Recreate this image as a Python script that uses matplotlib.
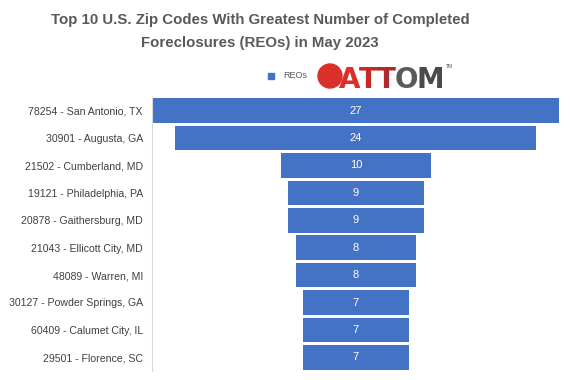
import matplotlib.pyplot as plt
import matplotlib.patches as mpatches
import numpy as np

# data
zips = ["78254 - San Antonio, TX", "30901 - Augusta, GA", "21502 - Cumberland, MD",
        "19121 - Philadelphia, PA", "20878 - Gaithersburg, MD", "21043 - Ellicott City, MD",
        "48089 - Warren, MI", "30127 - Powder Springs, GA", "60409 - Calumet City, IL",
        "29501 - Florence, SC"]
reos = [27, 24, 10, 9, 9, 8, 8, 7, 7, 7]

plt.rcParams['font.family'] = ['Liberation Sans', 'DejaVu Sans']

blue = "#4472c4"
fig = plt.figure(figsize=(5.7, 3.8), dpi=100)
ax = fig.add_axes([152/570, 1 - 371/380, 407/570, 274/380])

vals = np.array(reos)
ypos = np.arange(len(zips))
ax.barh(ypos, vals, left=-vals/2, height=0.9, color=blue)
for y, v in zip(ypos, vals):
    ax.text(0, y, str(v), ha="center", va="center", color="white", fontsize=8)

ax.set_xlim(-13.55, 13.5)
ax.set_ylim(len(zips) - 0.5, -0.5)
ax.set_yticks(ypos)
ax.set_yticklabels(zips, fontsize=7.6, color="#404040")
ax.tick_params(axis="y", length=0, pad=6.5)
ax.set_xticks([])
for s in ["top", "right", "bottom"]:
    ax.spines[s].set_visible(False)
ax.spines["left"].set_color("#d9d9d9")

fig.text(260/570, 1 - 31.5/380, "Top 10 U.S. Zip Codes With Greatest Number of Completed\nForeclosures (REOs) in May 2023",
         ha="center", va="center", fontsize=10.8, fontweight="bold", color="#595959", linespacing=1.75)

# legend
fig.patches.append(mpatches.Rectangle((268/570, 1 - 79/380), 6/570, 6/380,
                                      transform=fig.transFigure, color=blue))
fig.text(283/570, 1 - 76/380, "REOs", fontsize=6.5, color="#595959", va="center")

# logo (approximation)
fig.patches.append(mpatches.Ellipse((330/570, 1 - 76/380), 24/570, 24/380,
                                    transform=fig.transFigure, color="#d9302a"))
letters = [("A", "#d9302a"), ("T", "#c52a2a"), ("T", "#b3282a"), ("O", "#5a5a5a"), ("M", "#4a4a4a")]
advances = [20.7, 18.2, 18.2, 22.7, 26.6]
x0 = 339
for (ch, c), w in zip(letters, advances):
    fig.text(x0/570, 1 - 88/380, ch, fontsize=20, fontweight="bold", color=c,
             va="baseline", ha="left", family="DejaVu Sans")
    x0 += w - 0.5
fig.text(446/570, 1 - 67/380, "TM", fontsize=3.5, color="#4a4a4a", va="center")

fig.savefig("out.png", dpi=100)
